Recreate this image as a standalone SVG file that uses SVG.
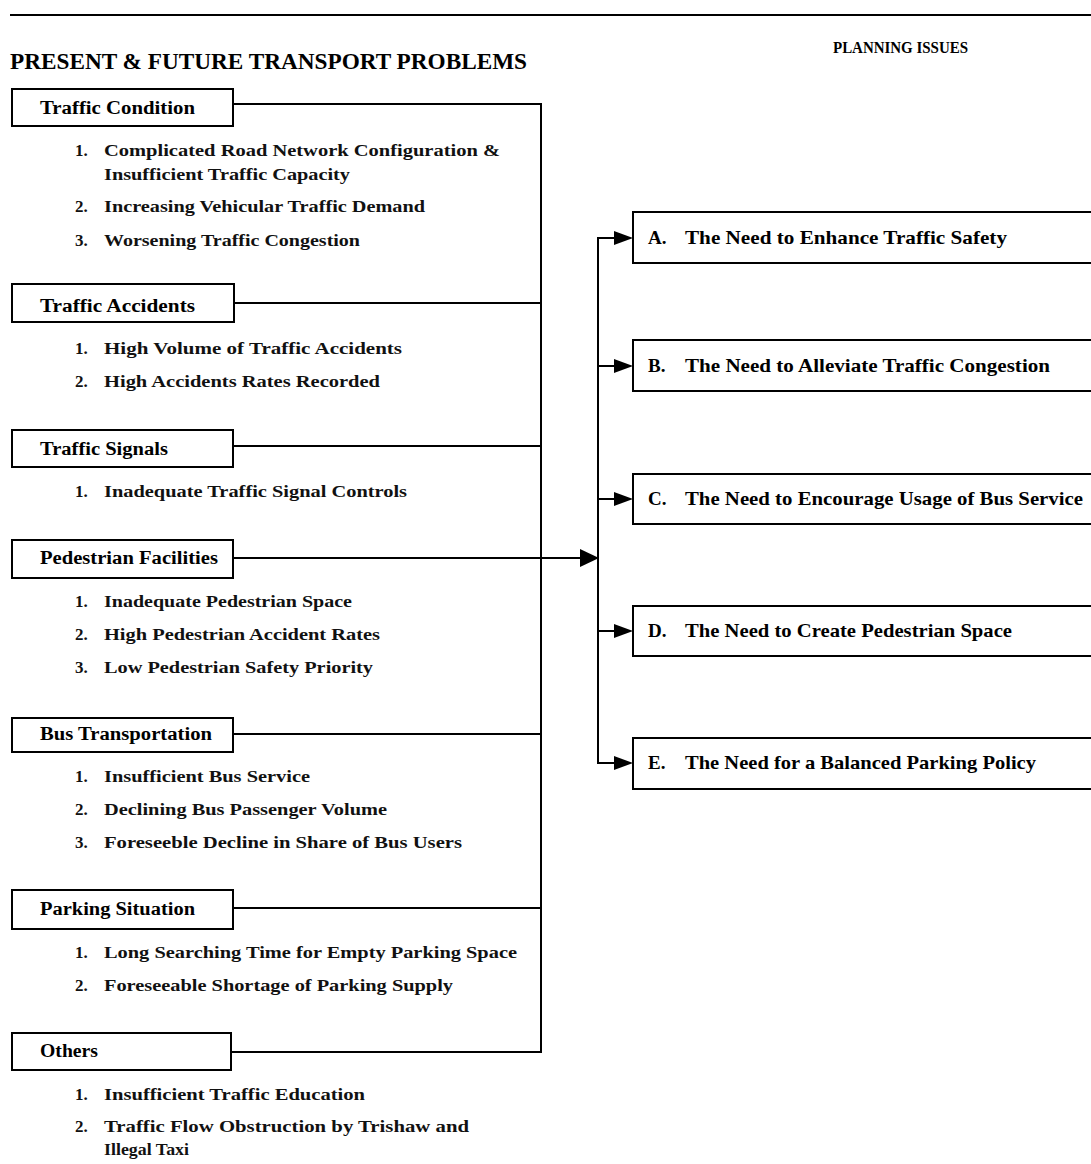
<svg xmlns="http://www.w3.org/2000/svg" width="1091" height="1164" viewBox="0 0 1091 1164">
<style>
.bg{fill:#fff}
.box{fill:#fff;stroke:#000;stroke-width:2}
.ln{fill:none;stroke:#000;stroke-width:2}
.title{font-family:"Liberation Serif",serif;font-weight:bold;font-size:23px;fill:#000}
.sub{font-family:"Liberation Serif",serif;font-weight:bold;font-size:16px;fill:#000}
.hd{font-family:"Liberation Serif",serif;font-weight:bold;font-size:18px;fill:#000}
.it{font-family:"Liberation Serif",serif;font-weight:bold;font-size:17px;fill:#111}
.rt{font-family:"Liberation Serif",serif;font-weight:bold;font-size:19px;fill:#000}
</style>
<rect class="bg" x="0" y="0" width="1091" height="1164"/>
<line class="ln" x1="10" y1="15" x2="1091" y2="15"/>
<text class="title" x="10" y="69" textLength="517" lengthAdjust="spacingAndGlyphs">PRESENT &amp; FUTURE TRANSPORT PROBLEMS</text>
<text class="sub" x="833" y="53" textLength="135" lengthAdjust="spacingAndGlyphs">PLANNING  ISSUES</text>

<g id="connectors">
<polyline class="ln" points="233,104 541,104 541,1052 232,1052"/>
<line class="ln" x1="234" y1="303" x2="541" y2="303"/>
<line class="ln" x1="233" y1="446" x2="541" y2="446"/>
<line class="ln" x1="233" y1="734" x2="541" y2="734"/>
<line class="ln" x1="233" y1="908" x2="541" y2="908"/>
<line class="ln" x1="233" y1="558" x2="580" y2="558"/>
<path d="M580,549 L599,558 L580,567 Z" fill="#000"/>
<polyline class="ln" points="614,238 598,238 598,763 614,763"/>
<line class="ln" x1="598" y1="366" x2="614" y2="366"/>
<line class="ln" x1="598" y1="499" x2="614" y2="499"/>
<line class="ln" x1="598" y1="631" x2="614" y2="631"/>
<path d="M614,231 L633,238 L614,245 Z" fill="#000"/>
<path d="M614,359 L633,366 L614,373 Z" fill="#000"/>
<path d="M614,492 L633,499 L614,506 Z" fill="#000"/>
<path d="M614,624 L633,631 L614,638 Z" fill="#000"/>
<path d="M614,756 L633,763 L614,770 Z" fill="#000"/>
</g>

<g id="traffic-condition">
<rect class="box" x="12" y="89" width="221" height="37"/>
<text class="hd" x="40" y="114" textLength="155" lengthAdjust="spacingAndGlyphs">Traffic Condition</text>
<text class="it" x="75" y="156">1.</text><text class="it" x="104" y="156" textLength="396" lengthAdjust="spacingAndGlyphs">Complicated Road Network Configuration &amp;</text>
<text class="it" x="104" y="180" textLength="246" lengthAdjust="spacingAndGlyphs">Insufficient Traffic Capacity</text>
<text class="it" x="75" y="212">2.</text><text class="it" x="104" y="212" textLength="321" lengthAdjust="spacingAndGlyphs">Increasing Vehicular Traffic Demand</text>
<text class="it" x="75" y="246">3.</text><text class="it" x="104" y="246" textLength="256" lengthAdjust="spacingAndGlyphs">Worsening Traffic Congestion</text>
</g>

<g id="traffic-accidents">
<rect class="box" x="12" y="284" width="222" height="38"/>
<text class="hd" x="40" y="312" textLength="155" lengthAdjust="spacingAndGlyphs">Traffic Accidents</text>
<text class="it" x="75" y="354">1.</text><text class="it" x="104" y="354" textLength="298" lengthAdjust="spacingAndGlyphs">High Volume of Traffic Accidents</text>
<text class="it" x="75" y="387">2.</text><text class="it" x="104" y="387" textLength="276" lengthAdjust="spacingAndGlyphs">High Accidents Rates Recorded</text>
</g>

<g id="traffic-signals">
<rect class="box" x="12" y="430" width="221" height="37"/>
<text class="hd" x="40" y="455" textLength="128" lengthAdjust="spacingAndGlyphs">Traffic Signals</text>
<text class="it" x="75" y="497">1.</text><text class="it" x="104" y="497" textLength="303" lengthAdjust="spacingAndGlyphs">Inadequate Traffic Signal Controls</text>
</g>

<g id="pedestrian-facilities">
<rect class="box" x="12" y="540" width="221" height="38"/>
<text class="hd" x="40" y="564" textLength="178" lengthAdjust="spacingAndGlyphs">Pedestrian Facilities</text>
<text class="it" x="75" y="607">1.</text><text class="it" x="104" y="607" textLength="248" lengthAdjust="spacingAndGlyphs">Inadequate Pedestrian Space</text>
<text class="it" x="75" y="640">2.</text><text class="it" x="104" y="640" textLength="276" lengthAdjust="spacingAndGlyphs">High Pedestrian Accident Rates</text>
<text class="it" x="75" y="673">3.</text><text class="it" x="104" y="673" textLength="269" lengthAdjust="spacingAndGlyphs">Low Pedestrian Safety Priority</text>
</g>

<g id="bus-transportation">
<rect class="box" x="12" y="718" width="221" height="34"/>
<text class="hd" x="40" y="740" textLength="172" lengthAdjust="spacingAndGlyphs">Bus Transportation</text>
<text class="it" x="75" y="782">1.</text><text class="it" x="104" y="782" textLength="206" lengthAdjust="spacingAndGlyphs">Insufficient Bus Service</text>
<text class="it" x="75" y="815">2.</text><text class="it" x="104" y="815" textLength="283" lengthAdjust="spacingAndGlyphs">Declining Bus Passenger Volume</text>
<text class="it" x="75" y="848">3.</text><text class="it" x="104" y="848" textLength="358" lengthAdjust="spacingAndGlyphs">Foreseeble Decline in Share of Bus Users</text>
</g>

<g id="parking-situation">
<rect class="box" x="12" y="890" width="221" height="39"/>
<text class="hd" x="40" y="915" textLength="155" lengthAdjust="spacingAndGlyphs">Parking Situation</text>
<text class="it" x="75" y="958">1.</text><text class="it" x="104" y="958" textLength="413" lengthAdjust="spacingAndGlyphs">Long Searching Time for Empty Parking Space</text>
<text class="it" x="75" y="991">2.</text><text class="it" x="104" y="991" textLength="349" lengthAdjust="spacingAndGlyphs">Foreseeable Shortage of Parking Supply</text>
</g>

<g id="others">
<rect class="box" x="12" y="1033" width="219" height="37"/>
<text class="hd" x="40" y="1057" textLength="58" lengthAdjust="spacingAndGlyphs">Others</text>
<text class="it" x="75" y="1100">1.</text><text class="it" x="104" y="1100" textLength="261" lengthAdjust="spacingAndGlyphs">Insufficient Traffic Education</text>
<text class="it" x="75" y="1132">2.</text><text class="it" x="104" y="1132" textLength="365" lengthAdjust="spacingAndGlyphs">Traffic Flow Obstruction by Trishaw and</text>
<text class="it" x="104" y="1155" textLength="85" lengthAdjust="spacingAndGlyphs">Illegal Taxi</text>
</g>

<g id="issue-a">
<rect class="box" x="633" y="212" width="470" height="51"/>
<text class="rt" x="648" y="244">A.</text><text class="rt" x="685" y="244" textLength="322" lengthAdjust="spacingAndGlyphs">The Need to Enhance Traffic Safety</text>
</g>
<g id="issue-b">
<rect class="box" x="633" y="340" width="470" height="51"/>
<text class="rt" x="648" y="372">B.</text><text class="rt" x="685" y="372" textLength="365" lengthAdjust="spacingAndGlyphs">The Need to Alleviate Traffic Congestion</text>
</g>
<g id="issue-c">
<rect class="box" x="633" y="474" width="470" height="50"/>
<text class="rt" x="648" y="505">C.</text><text class="rt" x="685" y="505" textLength="398" lengthAdjust="spacingAndGlyphs">The Need to Encourage Usage of Bus Service</text>
</g>
<g id="issue-d">
<rect class="box" x="633" y="606" width="470" height="50"/>
<text class="rt" x="648" y="637">D.</text><text class="rt" x="685" y="637" textLength="327" lengthAdjust="spacingAndGlyphs">The Need to Create Pedestrian Space</text>
</g>
<g id="issue-e">
<rect class="box" x="633" y="738" width="470" height="51"/>
<text class="rt" x="648" y="769">E.</text><text class="rt" x="685" y="769" textLength="351" lengthAdjust="spacingAndGlyphs">The Need for a Balanced Parking Policy</text>
</g>
</svg>
